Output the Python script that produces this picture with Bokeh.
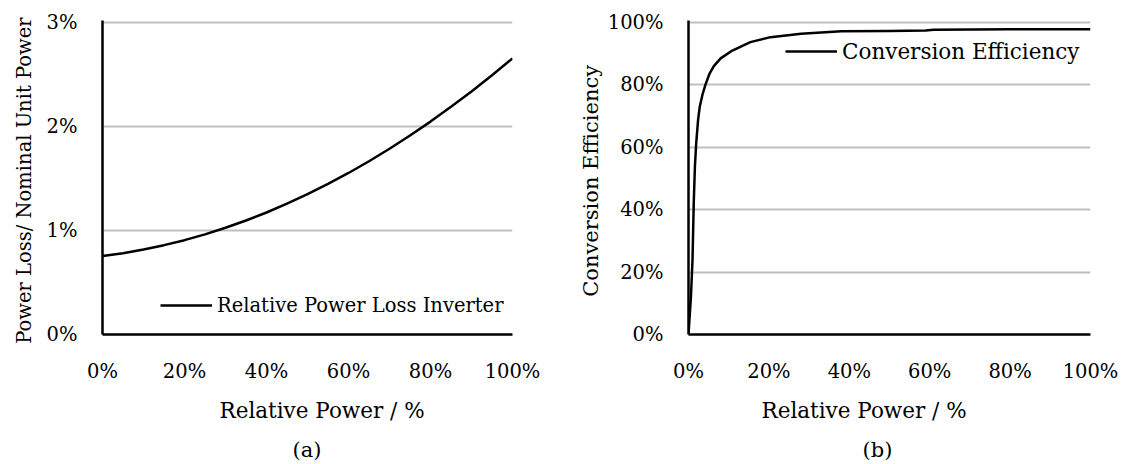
from bokeh.plotting import figure
from bokeh.layouts import row
from bokeh.models import (FixedTicker, Legend, LegendItem, Title, Range1d)
from bokeh.embed import file_html
from bokeh.resources import INLINE

# ---------------- data ----------------
# (a) relative power loss of inverter (% of nominal unit power) vs relative power (%)
loss_x = [0, 5, 10, 15, 20, 25, 30, 35, 40, 45, 50, 55, 60, 65, 70, 75, 80, 85, 90, 95, 100]
loss_y = [0.755, 0.782, 0.817, 0.859, 0.907, 0.963, 1.026, 1.096, 1.173, 1.258, 1.349,
          1.448, 1.553, 1.666, 1.786, 1.913, 2.047, 2.189, 2.336, 2.492, 2.655]

# (b) conversion efficiency (%) vs relative power (%)
eff_x = [0, 0.6, 1.0, 1.3, 1.6, 1.9, 2.4, 2.8, 3.5, 4.2, 5.2, 6.3, 8.0, 10.9, 15.4,
         20.4, 28, 38, 50, 59, 61, 80, 100]
eff_y = [0, 12, 24, 42, 54, 61, 69, 73, 77, 80, 83.5, 86, 88.5, 91, 93.7,
         95.3, 96.4, 97.2, 97.3, 97.4, 97.7, 97.8, 97.8]

x_ticks = [0, 20, 40, 60, 80, 100]
x_tick_labels = ["0%", "20%", "40%", "60%", "80%", "100%"]
a_y_ticks = [0, 1, 2, 3]
a_y_tick_labels = ["0%", "1%", "2%", "3%"]
b_y_ticks = [0, 20, 40, 60, 80, 100]
b_y_tick_labels = ["0%", "20%", "40%", "60%", "80%", "100%"]

x_title = "Relative Power / %"
a_y_title = "Power  Loss/ Nominal Unit Power"
b_y_title = "Conversion  Efficiency"
a_series = "Relative Power Loss Inverter"
b_series = "Conversion Efficiency"
a_caption = "(a)"
b_caption = "(b)"

# ---------------- style ----------------
FONT = "DejaVu Serif"
TICK_SIZE = "19.5px"
XTITLE_SIZE = "21.5px"
CAP_SIZE = "21px"
GRID = "#bfbfbf"
INK = "#000000"


def style(p, xt, xl, yt, yl, ytitle, ytitle_size, ytitle_standoff,
          xtitle_offset, caption, cap_offset):
    p.xaxis.ticker = FixedTicker(ticks=xt)
    p.xaxis.major_label_overrides = {t: l for t, l in zip(xt, xl)}
    p.yaxis.ticker = FixedTicker(ticks=yt)
    p.yaxis.major_label_overrides = {t: l for t, l in zip(yt, yl)}
    for ax in (p.xaxis, p.yaxis):
        ax.axis_line_color = INK
        ax.axis_line_width = 2.5
        ax.major_tick_out = 0
        ax.major_tick_in = 0
        ax.minor_tick_out = 0
        ax.minor_tick_in = 0
        ax.major_label_text_font = FONT
        ax.major_label_text_font_size = TICK_SIZE
        ax.major_label_text_color = INK
        ax.axis_label_text_font = FONT
        ax.axis_label_text_font_style = "normal"
        ax.axis_label_text_color = INK
    p.yaxis.axis_label = ytitle
    p.yaxis.axis_label_text_font_size = ytitle_size
    p.xaxis.major_label_standoff = 25
    p.yaxis.major_label_standoff = 25
    p.yaxis.axis_label_standoff = ytitle_standoff
    p.xgrid.visible = False
    p.ygrid.ticker = FixedTicker(ticks=yt)
    p.ygrid.grid_line_color = GRID
    p.ygrid.grid_line_width = 2
    p.outline_line_color = None
    p.background_fill_color = "white"
    p.border_fill_color = "white"
    # x-axis title (placed below the tick labels, horizontally offset as in the original)
    xt_title = Title(text=x_title, align="left", text_font=FONT, text_font_size=XTITLE_SIZE,
                     text_font_style="normal", text_color=INK, offset=xtitle_offset,
                     standoff=20)
    p.add_layout(xt_title, "below")
    cap = Title(text=caption, align="left", text_font=FONT, text_font_size=CAP_SIZE,
                text_font_style="normal", text_color=INK, offset=cap_offset, standoff=6)
    p.add_layout(cap, "below")


H = 464

p1 = figure(width=560, height=H, output_backend="svg", toolbar_location=None,
            x_range=Range1d(0, 100), y_range=Range1d(0, 3.019),
            min_border_left=102, min_border_right=48, min_border_top=20, min_border_bottom=128)
r1 = p1.line(loss_x, loss_y, line_color=INK, line_width=2.5)
style(p1, x_ticks, x_tick_labels, a_y_ticks, a_y_tick_labels, a_y_title, "19.5px", 8,
      117, a_caption, 190)
leg1 = Legend(items=[LegendItem(label=a_series, renderers=[r1])], location=(58, 16),
              glyph_width=52, glyph_height=26, label_height=26, label_standoff=5,
              padding=0, margin=0, border_line_alpha=0, background_fill_alpha=0,
              label_text_font=FONT, label_text_font_size="19.5px", label_text_color=INK)
p1.add_layout(leg1)

p2 = figure(width=563, height=H, output_backend="svg", toolbar_location=None,
            x_range=Range1d(0, 100), y_range=Range1d(0, 100.64),
            min_border_left=128, min_border_right=33, min_border_top=20, min_border_bottom=128)
r2 = p2.line(eff_x, eff_y, line_color=INK, line_width=2.5)
style(p2, x_ticks, x_tick_labels, b_y_ticks, b_y_tick_labels, b_y_title, "21px", 2,
      73, b_caption, 174)
leg2 = Legend(items=[LegendItem(label=b_series, renderers=[r2])], location=(97, 270),
              glyph_width=52, glyph_height=26, label_height=26, label_standoff=5,
              padding=0, margin=0, border_line_alpha=0, background_fill_alpha=0,
              label_text_font=FONT, label_text_font_size="21.5px", label_text_color=INK)
p2.add_layout(leg2)

layout = row(p1, p2)
open("out.html", "w").write(file_html(layout, INLINE))
